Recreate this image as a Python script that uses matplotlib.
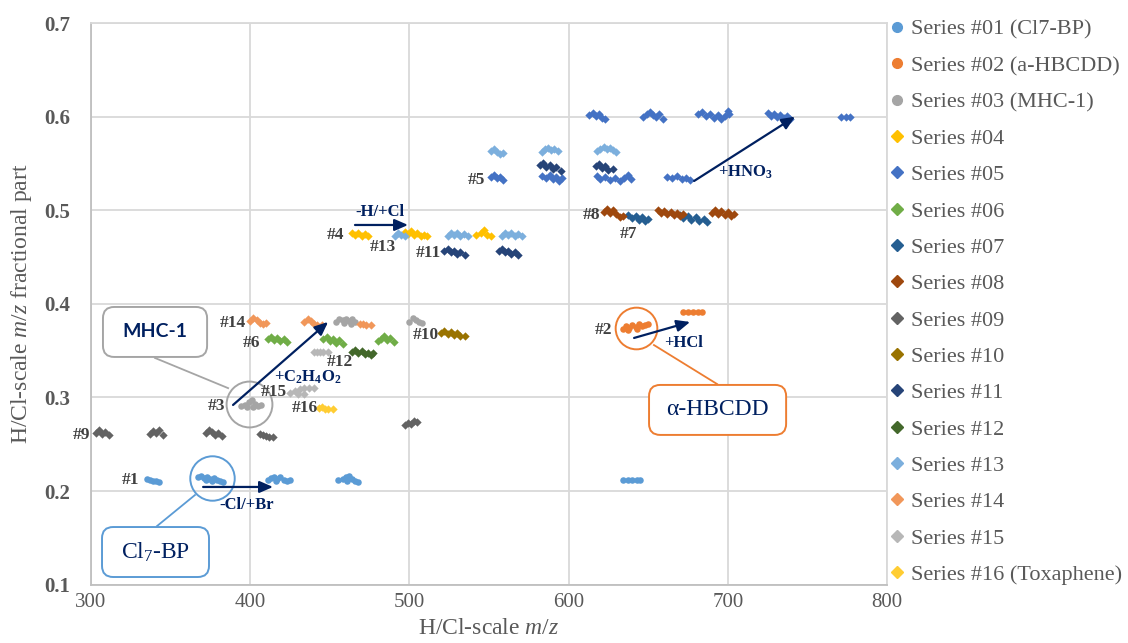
import matplotlib
matplotlib.use("Agg")
import matplotlib.pyplot as plt
from matplotlib.patches import FancyBboxPatch
from matplotlib.lines import Line2D

plt.rcParams['font.family'] = ['Liberation Serif', 'DejaVu Serif']
plt.rcParams['mathtext.fontset'] = 'custom'
plt.rcParams['mathtext.rm'] = 'Liberation Serif'
plt.rcParams['mathtext.it'] = 'Liberation Serif:italic'
plt.rcParams['mathtext.bf'] = 'Liberation Serif:bold'

# ---- data (H/Cl-scale m/z, fractional part) ----
s01_x = [335, 337, 339, 341, 343,
         367, 369, 371, 373, 375, 377, 379, 381, 383, 372, 376,
         411, 413, 415, 417, 419, 421, 423, 425, 416,
         455, 458, 460, 462, 464, 466, 468, 461,
         634, 637, 640, 643, 645]
s01_y = [0.213, 0.212, 0.211, 0.211, 0.210,
         0.215, 0.216, 0.214, 0.215, 0.213, 0.214, 0.212, 0.211, 0.210, 0.212, 0.211,
         0.212, 0.214, 0.215, 0.213, 0.215, 0.212, 0.211, 0.212, 0.211,
         0.212, 0.213, 0.215, 0.216, 0.213, 0.211, 0.210, 0.211,
         0.212, 0.212, 0.212, 0.212, 0.212]

s02_x = [634, 636, 638, 640, 642, 644, 646, 648, 650, 637, 643,
         672, 675, 678, 681, 684]
s02_y = [0.373, 0.376, 0.374, 0.377, 0.375, 0.378, 0.376, 0.377, 0.378, 0.372, 0.373,
         0.391, 0.391, 0.391, 0.391, 0.391]

s03_x = [394, 397, 399, 401, 403, 405, 407, 398, 402,
         454, 456, 458, 460, 462, 464, 466, 459, 463,
         500, 502, 504, 506, 508]
s03_y = [0.291, 0.292, 0.295, 0.297, 0.293, 0.291, 0.292, 0.290, 0.290,
         0.381, 0.384, 0.383, 0.384, 0.382, 0.384, 0.381, 0.380, 0.379,
         0.381, 0.385, 0.383, 0.381, 0.380]

s04_x = [464, 466, 468, 470, 472, 474,
         497, 499, 501, 503, 505, 507, 509, 511,
         542, 545, 547, 549, 551]
s04_y = [0.476, 0.474, 0.476, 0.473, 0.475, 0.472,
         0.477, 0.475, 0.478, 0.474, 0.476, 0.473, 0.474, 0.472,
         0.474, 0.476, 0.479, 0.474, 0.473]

s05_x = [613, 615, 617, 619, 621, 623,
         647, 649, 651, 653, 655, 657, 659,
         681, 684, 686, 689, 691, 694, 696, 698, 701, 700,
         725, 727, 729, 731, 733, 735, 737, 739,
         771, 774, 777,
         551, 553, 555, 557, 559,
         583, 586, 588, 590, 592, 594, 596,
         618, 620, 623, 626, 629, 632, 635, 637, 639,
         662, 665, 668, 671, 674, 676]
s05_y = [0.602, 0.604, 0.601, 0.603, 0.599, 0.597,
         0.600, 0.603, 0.605, 0.602, 0.600, 0.603, 0.598,
         0.603, 0.605, 0.601, 0.603, 0.599, 0.602, 0.598, 0.601, 0.603, 0.606,
         0.604, 0.601, 0.603, 0.600, 0.602, 0.599, 0.601, 0.598,
         0.600, 0.600, 0.600,
         0.536, 0.538, 0.534, 0.536, 0.532,
         0.537, 0.534, 0.538, 0.533, 0.536, 0.531, 0.534,
         0.537, 0.533, 0.536, 0.532, 0.535, 0.531, 0.534, 0.538, 0.533,
         0.536, 0.534, 0.537, 0.533, 0.535, 0.532]

s06_x = [411, 413, 415, 417, 419, 421, 423,
         446, 448, 450, 452, 454, 456, 458,
         480, 482, 484, 486, 488, 490]
s06_y = [0.362, 0.365, 0.361, 0.364, 0.360, 0.362, 0.359,
         0.362, 0.365, 0.360, 0.363, 0.358, 0.361, 0.357,
         0.360, 0.363, 0.366, 0.361, 0.364, 0.359]

s07_x = [637, 640, 642, 644, 646, 648, 650,
         670, 672, 675, 677, 680, 682, 685, 687]
s07_y = [0.495, 0.492, 0.494, 0.490, 0.493, 0.489, 0.491,
         0.495, 0.492, 0.494, 0.490, 0.493, 0.489, 0.491, 0.488]

s08_x = [622, 624, 626, 628, 630, 632, 634,
         656, 658, 660, 662, 664, 666, 668, 670, 672,
         690, 692, 694, 696, 698, 700, 702, 704]
s08_y = [0.498, 0.501, 0.497, 0.500, 0.496, 0.493, 0.494,
         0.500, 0.497, 0.499, 0.496, 0.498, 0.495, 0.497, 0.494, 0.496,
         0.497, 0.500, 0.496, 0.499, 0.495, 0.498, 0.494, 0.496]

s09_x = [303, 305, 307, 309, 311,
         337, 339, 341, 343, 345,
         372, 374, 376, 378, 380, 382,
         406, 408, 410, 412, 414,
         497, 499, 501, 503, 505]
s09_y = [0.262, 0.265, 0.261, 0.263, 0.260,
         0.261, 0.264, 0.262, 0.265, 0.260,
         0.262, 0.265, 0.263, 0.260, 0.262, 0.259,
         0.261, 0.260, 0.259, 0.258, 0.258,
         0.271, 0.273, 0.272, 0.275, 0.274]

s10_x = [520, 522, 524, 526, 528, 530, 532, 535]
s10_y = [0.369, 0.371, 0.368, 0.370, 0.367, 0.369, 0.366, 0.366]

s11_x = [522, 524, 526, 528, 530, 532, 535,
         556, 558, 560, 562, 564, 566, 568,
         582, 584, 586, 588, 590, 592, 595,
         617, 619, 621, 623, 625, 628]
s11_y = [0.457, 0.459, 0.455, 0.457, 0.453, 0.455, 0.452,
         0.457, 0.459, 0.455, 0.457, 0.453, 0.455, 0.452,
         0.548, 0.550, 0.546, 0.548, 0.544, 0.546, 0.542,
         0.547, 0.549, 0.545, 0.547, 0.543, 0.544]

s12_x = [464, 466, 468, 470, 472, 474, 476, 477]
s12_y = [0.349, 0.351, 0.347, 0.350, 0.346, 0.348, 0.345, 0.347]

s13_x = [551, 553, 555, 557, 559,
         583, 585, 587, 589, 591, 593,
         618, 620, 622, 624, 626, 628, 630,
         491, 493, 495, 497,
         524, 526, 528, 530, 532, 534, 537,
         558, 560, 562, 564, 566, 568, 571]
s13_y = [0.563, 0.566, 0.562, 0.560, 0.561,
         0.562, 0.565, 0.567, 0.564, 0.566, 0.563,
         0.563, 0.566, 0.568, 0.565, 0.567, 0.564, 0.562,
         0.473, 0.476, 0.474, 0.472,
         0.473, 0.476, 0.474, 0.476, 0.473, 0.475, 0.472,
         0.473, 0.476, 0.474, 0.476, 0.473, 0.475, 0.472]

s14_x = [400, 402, 404, 406, 408, 410,
         434, 436, 438, 440, 442, 445,
         469, 471, 473, 476]
s14_y = [0.382, 0.385, 0.383, 0.380, 0.379, 0.380,
         0.381, 0.384, 0.382, 0.379, 0.377, 0.377,
         0.379, 0.378, 0.377, 0.377]

s15_x = [440, 442, 444, 446, 449,
         425, 428, 431, 434, 437, 440, 430, 434]
s15_y = [0.349, 0.349, 0.349, 0.349, 0.349,
         0.305, 0.307, 0.309, 0.310, 0.310, 0.310, 0.304, 0.304]

s16_x = [443, 445, 447, 449, 452]
s16_y = [0.289, 0.290, 0.288, 0.288, 0.288]

series_names = ["Series #01 (Cl7-BP)", "Series #02 (a-HBCDD)", "Series #03 (MHC-1)",
                "Series #04", "Series #05", "Series #06", "Series #07", "Series #08",
                "Series #09", "Series #10", "Series #11", "Series #12", "Series #13",
                "Series #14", "Series #15", "Series #16 (Toxaphene)"]
series_colors = ["#5B9BD5", "#ED7D31", "#A5A5A5", "#FFC000", "#4472C4", "#70AD47",
                 "#255E91", "#9E480E", "#636363", "#997300", "#264478", "#43682B",
                 "#7CAFDD", "#F1975A", "#B7B7B7", "#FFCD33"]
series_markers = ["o", "o", "o"] + ["D"] * 13

# cluster labels (#n) and where they sit
cluster_labels = ["#1", "#2", "#3", "#4", "#5", "#6", "#7", "#8",
                  "#9", "#10", "#11", "#12", "#13", "#14", "#15", "#16"]
label_x = [324.5, 621.6, 378.5, 453.3, 541.8, 401.1, 637.3, 614.7,
           294.3, 510.4, 511.7, 456.4, 483.4, 389.2, 415.0, 434.4]
label_y = [0.2118, 0.3722, 0.291, 0.4736, 0.5324, 0.3582, 0.4747, 0.495,
           0.260, 0.3668, 0.4544, 0.338, 0.4608, 0.3796, 0.306, 0.2888]

all_x = [s01_x, s02_x, s03_x, s04_x, s05_x, s06_x, s07_x, s08_x,
         s09_x, s10_x, s11_x, s12_x, s13_x, s14_x, s15_x, s16_x]
all_y = [s01_y, s02_y, s03_y, s04_y, s05_y, s06_y, s07_y, s08_y,
         s09_y, s10_y, s11_y, s12_y, s13_y, s14_y, s15_y, s16_y]

NAVY = "#002060"
GRID = "#D9D9D9"
TXT = "#595959"

fig = plt.figure(figsize=(11.28, 6.43), dpi=100)
ax = fig.add_axes([0.0807, 0.0907, 0.7057, 0.8734])

for xs, ys, c, m in zip(all_x, all_y, series_colors, series_markers):
    ax.scatter(xs, ys, s=22 if m == "o" else 18, marker=m, color=c,
               linewidths=0, zorder=3)

ax.set_xlim(300, 800)
ax.set_ylim(0.1, 0.7)
ax.set_xticks([300, 400, 500, 600, 700, 800])
ax.set_yticks([0.1, 0.2, 0.3, 0.4, 0.5, 0.6, 0.7])
ax.set_yticklabels(["0.1", "0.2", "0.3", "0.4", "0.5", "0.6", "0.7"])
ax.grid(True, color=GRID, lw=1.3, zorder=0)
ax.set_axisbelow(True)
for sp in ax.spines.values():
    sp.set_color(GRID)
    sp.set_linewidth(1.3)
ax.spines['left'].set_color("#BFBFBF")
ax.spines['bottom'].set_color("#BFBFBF")
ax.tick_params(axis='both', length=0, colors=TXT)
ax.tick_params(axis='y', pad=15, labelsize=15)
ax.tick_params(axis='x', pad=6, labelsize=15)
for t in ax.get_yticklabels():
    t.set_fontweight('bold')

ax.set_xlabel(r"H/Cl-scale $m/z$", fontsize=17, color=TXT)
ax.set_ylabel(r"H/Cl-scale $m/z$ fractional part", fontsize=17, color=TXT)
ax.xaxis.set_label_coords(0.5, -0.06)
ax.yaxis.set_label_coords(-0.072, 0.5)

# cluster numbers
for lab, lx, ly in zip(cluster_labels, label_x, label_y):
    ax.text(lx, ly, lab, fontsize=12.5, fontweight='bold', color="#404040",
            ha='center', va='center', zorder=5)

# arrows
arrows = [((370.4, 0.2044), (414.3, 0.2044)),
          ((641.1, 0.3636), (676.3, 0.3807)),
          ((389.2, 0.2920), (448.9, 0.3807)),
          ((678.8, 0.5313), (742.2, 0.6000)),
          ((465.8, 0.4843), (499.1, 0.4843))]
for (x0, y0), (x1, y1) in arrows:
    ax.annotate("", xy=(x1, y1), xytext=(x0, y0),
                arrowprops=dict(arrowstyle="-|>,head_length=0.8,head_width=0.35",
                                color=NAVY, lw=1.6, shrinkA=0, shrinkB=0), zorder=6)

ax.text(398.0, 0.185, "-Cl/+Br", fontsize=12, fontweight='bold', color=NAVY, ha='center', va='center')
ax.text(671.9, 0.358, "+HCl", fontsize=12, fontweight='bold', color=NAVY, ha='center', va='center')
ax.text(436.3, 0.322, r"+C$_\mathbf{2}$H$_\mathbf{4}$O$_\mathbf{2}$", fontsize=12,
        fontweight='bold', color=NAVY, ha='center', va='center')
ax.text(710.8, 0.541, r"+HNO$_\mathbf{3}$", fontsize=12, fontweight='bold', color=NAVY, ha='center', va='center')
ax.text(481.5, 0.498, "-H/+Cl", fontsize=12, fontweight='bold', color=NAVY, ha='center', va='center')

# highlight circles
circles = [((399.2, 0.293), 33, "#A5A5A5"),
           ((376.0, 0.214), 32, "#5B9BD5"),
           ((642.3, 0.374), 30, "#ED7D31")]
for (cx, cy), ms, ec in circles:
    ax.plot([cx], [cy], marker='o', ms=ms, mfc='none', mec=ec, mew=1.4, zorder=4)

# callout boxes
asp = (0.1 / 93.6) / (100 / 159.2)
boxes = [((307.5, 0.3433), 65.4, 0.0534, "#A5A5A5", "MHC-1", 'Lato', 'bold', 14, (340.2, 0.3422), (386.1, 0.310)),
         ((306.9, 0.1082), 67.2, 0.0534, "#5B9BD5", r"Cl$_7$-BP", 'Liberation Serif', 'normal', 17, (341.5, 0.1627), (365.3, 0.1958)),
         ((650.5, 0.2600), 86.1, 0.0534, "#ED7D31", "α-HBCDD", 'Liberation Serif', 'normal', 17, (693.2, 0.3144), (653.6, 0.356))]
for (bx, by), bw, bh, ec, txt, fam, fw, fs, p0, p1 in boxes:
    ax.plot([p0[0], p1[0]], [p0[1], p1[1]], color=ec, lw=1.3, zorder=4)
    patch = FancyBboxPatch((bx, by), bw, bh, boxstyle="round,pad=0,rounding_size=7",
                           mutation_aspect=asp, fc='white', ec=ec, lw=1.4, zorder=5)
    ax.add_patch(patch)
    ax.text(bx + bw / 2, by + bh / 2, txt, fontsize=fs, fontweight=fw, family=fam,
            color=NAVY, ha='center', va='center', zorder=6)

# legend
handles = [Line2D([], [], ls='none', marker=m, color=c, ms=7 if m == "o" else 6)
           for m, c in zip(series_markers, series_colors)]
fig.legend(handles, series_names, loc='upper left', bbox_to_anchor=(0.789, 0.97),
           frameon=False, fontsize=16, labelcolor=TXT, handlelength=0.6,
           handletextpad=0.35, labelspacing=0.71, borderpad=0, borderaxespad=0)

fig.savefig("out.png", dpi=100)
